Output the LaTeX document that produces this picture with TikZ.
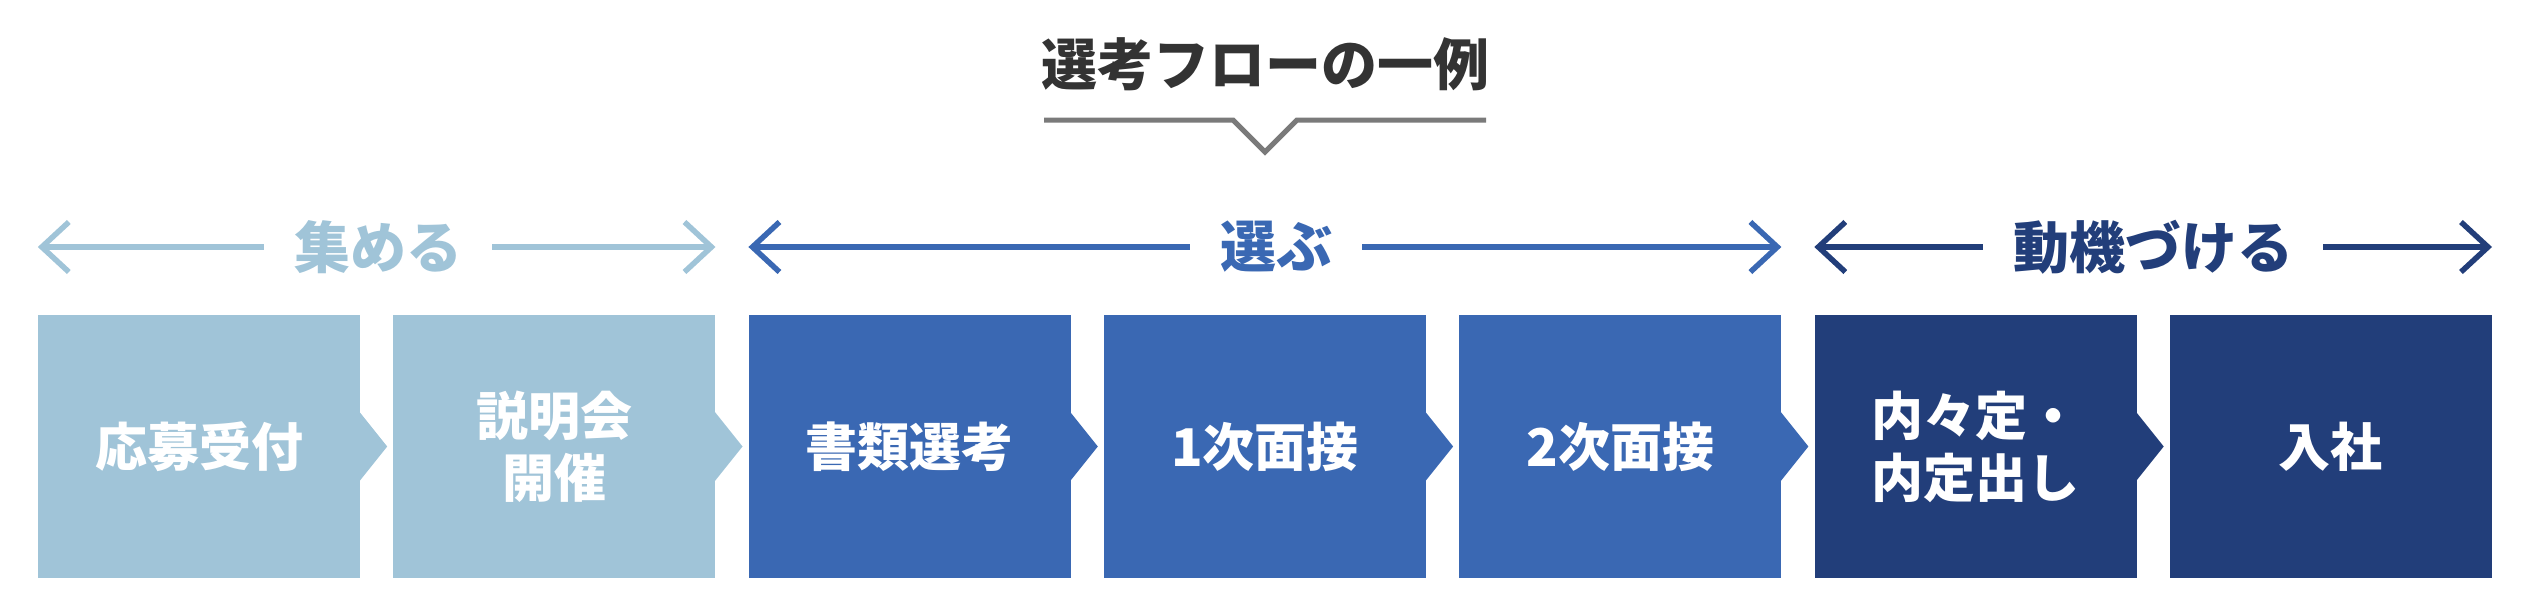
\documentclass[tikz,border=0pt]{standalone}
\usepackage{fontspec}
\setmainfont{Noto Sans CJK JP}
\usetikzlibrary{arrows.meta,calc}
\definecolor{cLight}{HTML}{A0C4D8}
\definecolor{cMid}{HTML}{3A68B3}
\definecolor{cDark}{HTML}{223E7A}
\definecolor{cGray}{HTML}{333333}
\definecolor{cLine}{HTML}{7A7A7A}
\begin{document}
\begin{tikzpicture}[x=1pt,y=-1pt,
  box/.style={minimum width=322pt,minimum height=263pt,inner sep=0pt,text=white,
    font=\fontsize{52}{62}\selectfont\bfseries,align=center},
  lab/.style={font=\fontsize{56}{60}\selectfont\bfseries,inner xsep=30pt,inner ysep=0pt},
  arr/.style={line width=5.5pt,-{Straight Barb[length=27pt,width=50pt,line width=5.5pt]}},
  ttl/.style={font=\fontsize{56}{60}\selectfont\bfseries,text=cGray,inner sep=0pt}
]
\useasboundingbox (0,0) rectangle (2524,600);
% title
\node[ttl] (title) at (1265,64) {選考フローの一例};
\draw[line width=5pt,cLine] (1044,120) -- (1233,120) -- (1265,152) -- (1297,120) -- (1486,120);
% boxes
\node[box,fill=cLight] (b1) at (199,446.5) {応募受付};
\node[box,fill=cLight] (b2) at (554.3,446.5) {説明会\\開催};
\node[box,fill=cMid] (b3) at (909.6,446.5) {書類選考};
\node[box,fill=cMid] (b4) at (1264.9,446.5) {1次面接};
\node[box,fill=cMid] (b5) at (1620.2,446.5) {2次面接};
\node[box,fill=cDark] (b6) at (1975.5,446.5) {内々定・\\内定出し};
\node[box,fill=cDark] (b7) at (2330.8,446.5) {入社};
% chevrons
\foreach \b/\c in {b1/cLight,b2/cLight,b3/cMid,b4/cMid,b5/cMid,b6/cDark}{
  \fill[\c] ($(\b.east)+(-1,-35)$) -- ($(\b.east)+(27,0)$) -- ($(\b.east)+(-1,35)$) -- cycle;
}
% phase labels
\coordinate (a1l) at (b1.west |- 0,247);  \coordinate (a1r) at (b2.east |- 0,247);
\coordinate (a2l) at (b3.west |- 0,247);  \coordinate (a2r) at (b5.east |- 0,247);
\coordinate (a3l) at (b6.west |- 0,247);  \coordinate (a3r) at (b7.east |- 0,247);
\node[lab,text=cLight] (l1) at (378,247) {集める};
\node[lab,text=cMid] (l2) at (1276,247) {選ぶ};
\node[lab,text=cDark] (l3) at (2153,247) {動機づける};
\draw[arr,cLight] (l1.west) -- (a1l);
\draw[arr,cLight] (l1.east) -- (a1r);
\draw[arr,cMid] (l2.west) -- (a2l);
\draw[arr,cMid] (l2.east) -- (a2r);
\draw[arr,cDark] (l3.west) -- (a3l);
\draw[arr,cDark] (l3.east) -- (a3r);
\end{tikzpicture}
\end{document}
